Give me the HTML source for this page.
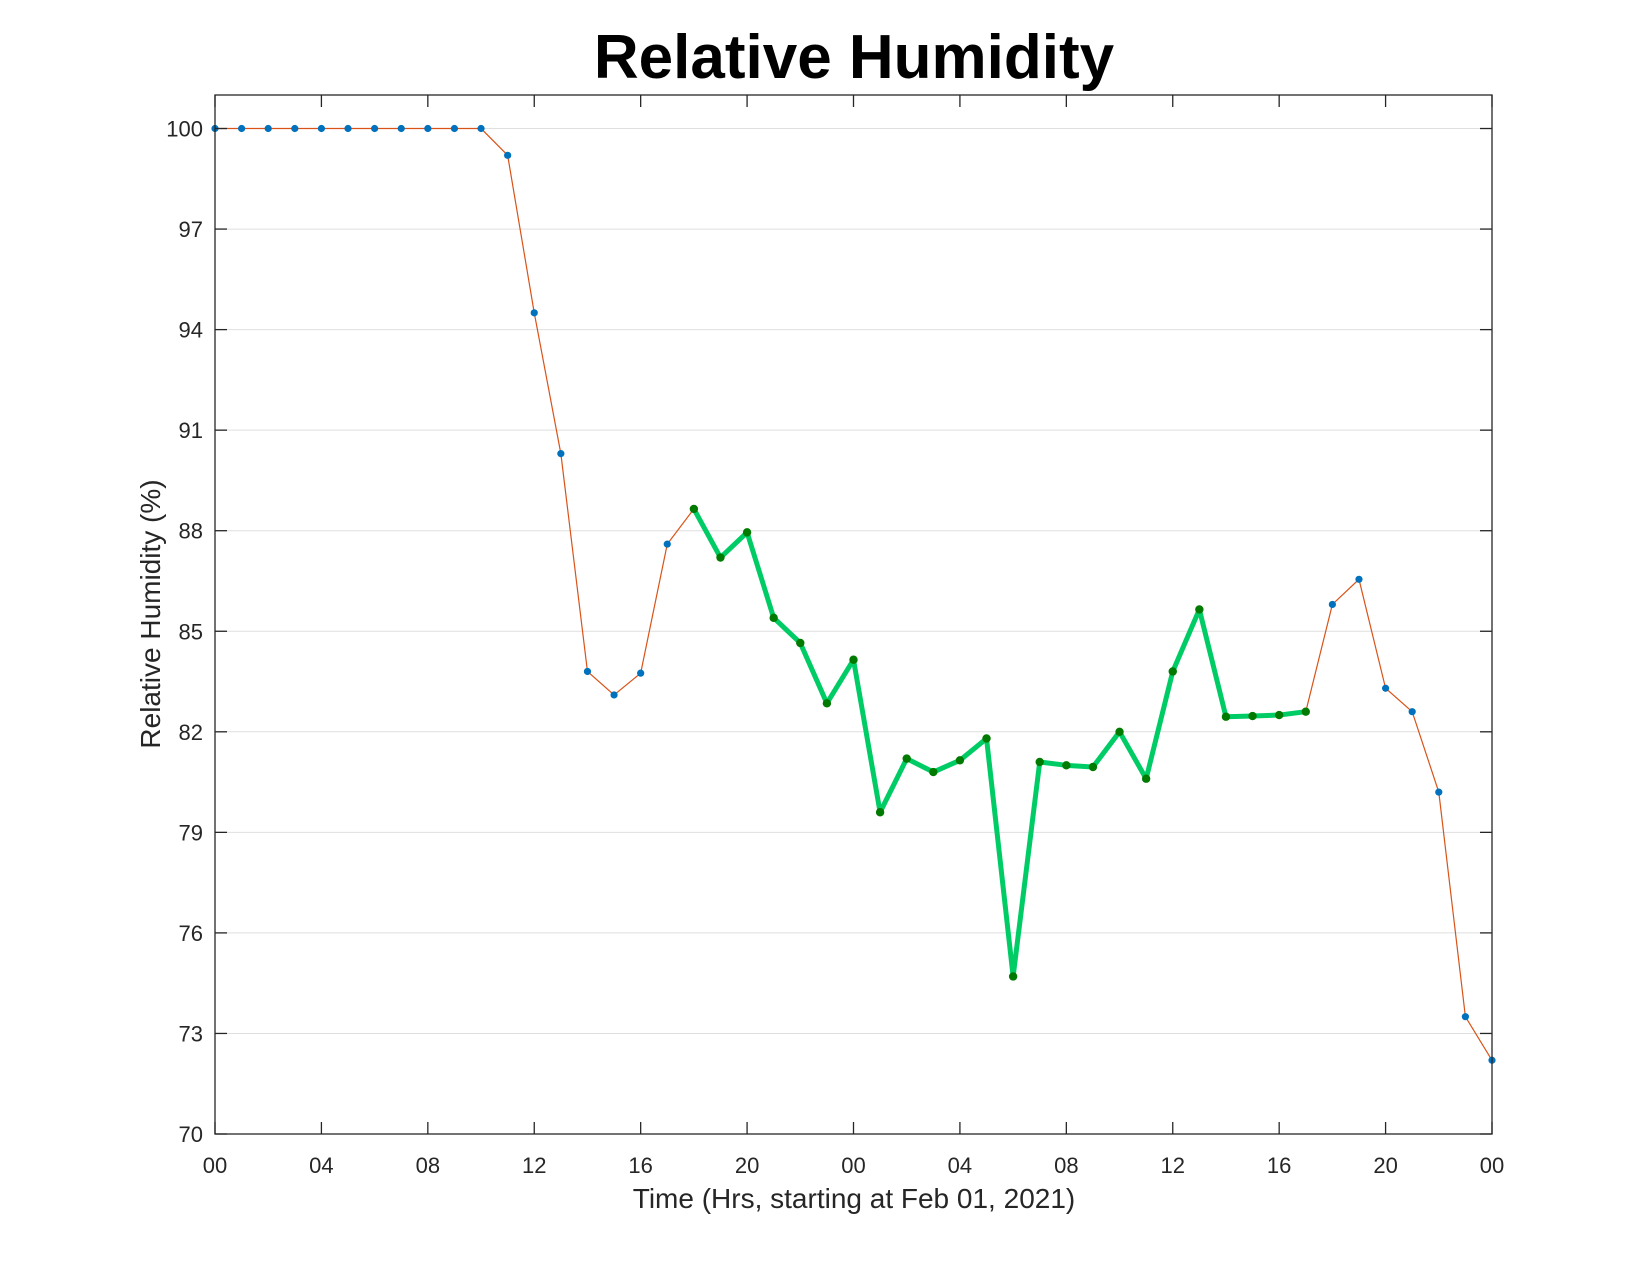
<!DOCTYPE html>
<html><head><meta charset="utf-8"><style>
html,body{margin:0;padding:0;background:#fff;}
svg{display:block;font-family:"Liberation Sans",Arial,sans-serif;}
</style></head><body>
<svg id="chart" width="1650" height="1275" viewBox="0 0 1650 1275">
<text x="854" y="78" text-anchor="middle" font-size="62" font-weight="bold" fill="#000">Relative Humidity</text>
<g id="grid"></g>
<g id="series"></g>
<g id="axes"></g>
<text x="854" y="1208" text-anchor="middle" font-size="28" fill="#262626">Time (Hrs, starting at Feb 01, 2021)</text>
<text transform="translate(160,614) rotate(-90)" text-anchor="middle" font-size="28" fill="#262626">Relative Humidity (%)</text>
</svg>
<script>
const hours = [0,1,2,3,4,5,6,7,8,9,10,11,12,13,14,15,16,17,18,19,20,21,22,23,24,25,26,27,28,29,30,31,32,33,34,35,36,37,38,39,40,41,42,43,44,45,46,47,48];
const humidity = [100,100,100,100,100,100,100,100,100,100,100,99.2,94.5,90.3,83.8,83.1,83.75,87.6,88.65,87.2,87.95,85.4,84.65,82.85,84.15,79.6,81.2,80.8,81.15,81.8,74.7,81.1,81.0,80.95,82.0,80.6,83.8,85.65,82.45,82.47,82.5,82.6,85.8,86.55,83.3,82.6,80.2,73.5,72.2];
const highlightStart = 18;
const highlightEnd = 41;
const yTicks = [70,73,76,79,82,85,88,91,94,97,100];
const xTicks = [0,4,8,12,16,20,24,28,32,36,40,44,48];
const xTickLabels = ["00","04","08","12","16","20","00","04","08","12","16","20","00"];

const L=215,R=1492,T=95,B=1134,xMin=0,xMax=48,yMin=70,yMax=101;
const sx=v=>L+(v-xMin)/(xMax-xMin)*(R-L);
const sy=v=>B-(v-yMin)/(yMax-yMin)*(B-T);
const NS="http://www.w3.org/2000/svg";
function mk(tag,attrs,parent){const e=document.createElementNS(NS,tag);for(const k in attrs)e.setAttribute(k,attrs[k]);parent.appendChild(e);return e;}
const grid=document.getElementById('grid'),series=document.getElementById('series'),axes=document.getElementById('axes');

yTicks.forEach(v=>{
  const g=mk('line',{x1:L,x2:R,y1:sy(v),y2:sy(v),stroke:'#dfdfdf','stroke-width':1},grid);
  
  
});

// orange line
let d='';hours.forEach((h,i)=>{d+=(i?'L':'M')+sx(h)+','+sy(humidity[i]);});
const ol=mk('path',{d:d,fill:'none',stroke:'#D95319','stroke-width':1.2},series);


hours.forEach((h,i)=>{
  const c=mk('circle',{cx:sx(h),cy:sy(humidity[i]),r:3.6,fill:'#0072BD'},series);
  
  
});
// green highlight
let gd='';for(let i=highlightStart;i<=highlightEnd;i++){gd+=(i===highlightStart?'M':'L')+sx(hours[i])+','+sy(humidity[i]);}
const gl=mk('path',{d:gd,fill:'none',stroke:'#00CC66','stroke-width':5,'stroke-linejoin':'round'},series);


for(let i=highlightStart;i<=highlightEnd;i++){
  const c=mk('circle',{cx:sx(hours[i]),cy:sy(humidity[i]),r:4.2,fill:'#007A00'},series);
  
  
}

const box=mk('rect',{x:L,y:T,width:R-L,height:B-T,fill:'none',stroke:'#262626','stroke-width':1.3},axes);


const tl=12;
yTicks.forEach(v=>{
  const y=sy(v);
  mk('line',{x1:L,x2:L+tl,y1:y,y2:y,stroke:'#262626','stroke-width':1.3},axes);
  mk('line',{x1:R-tl,x2:R,y1:y,y2:y,stroke:'#262626','stroke-width':1.3},axes);
  const t=mk('text',{x:L-12,y:y+8,'text-anchor':'end','font-size':22,fill:'#262626'},axes);
  t.textContent=v;
  
  
});
xTicks.forEach((v,i)=>{
  const x=sx(v);
  mk('line',{x1:x,x2:x,y1:B,y2:B-tl,stroke:'#262626','stroke-width':1.3},axes);
  mk('line',{x1:x,x2:x,y1:T,y2:T+tl,stroke:'#262626','stroke-width':1.3},axes);
  const t=mk('text',{x:x,y:1173,'text-anchor':'middle','font-size':22,fill:'#262626'},axes);
  t.textContent=xTickLabels[i];
  
  
});
</script>
</body></html>
